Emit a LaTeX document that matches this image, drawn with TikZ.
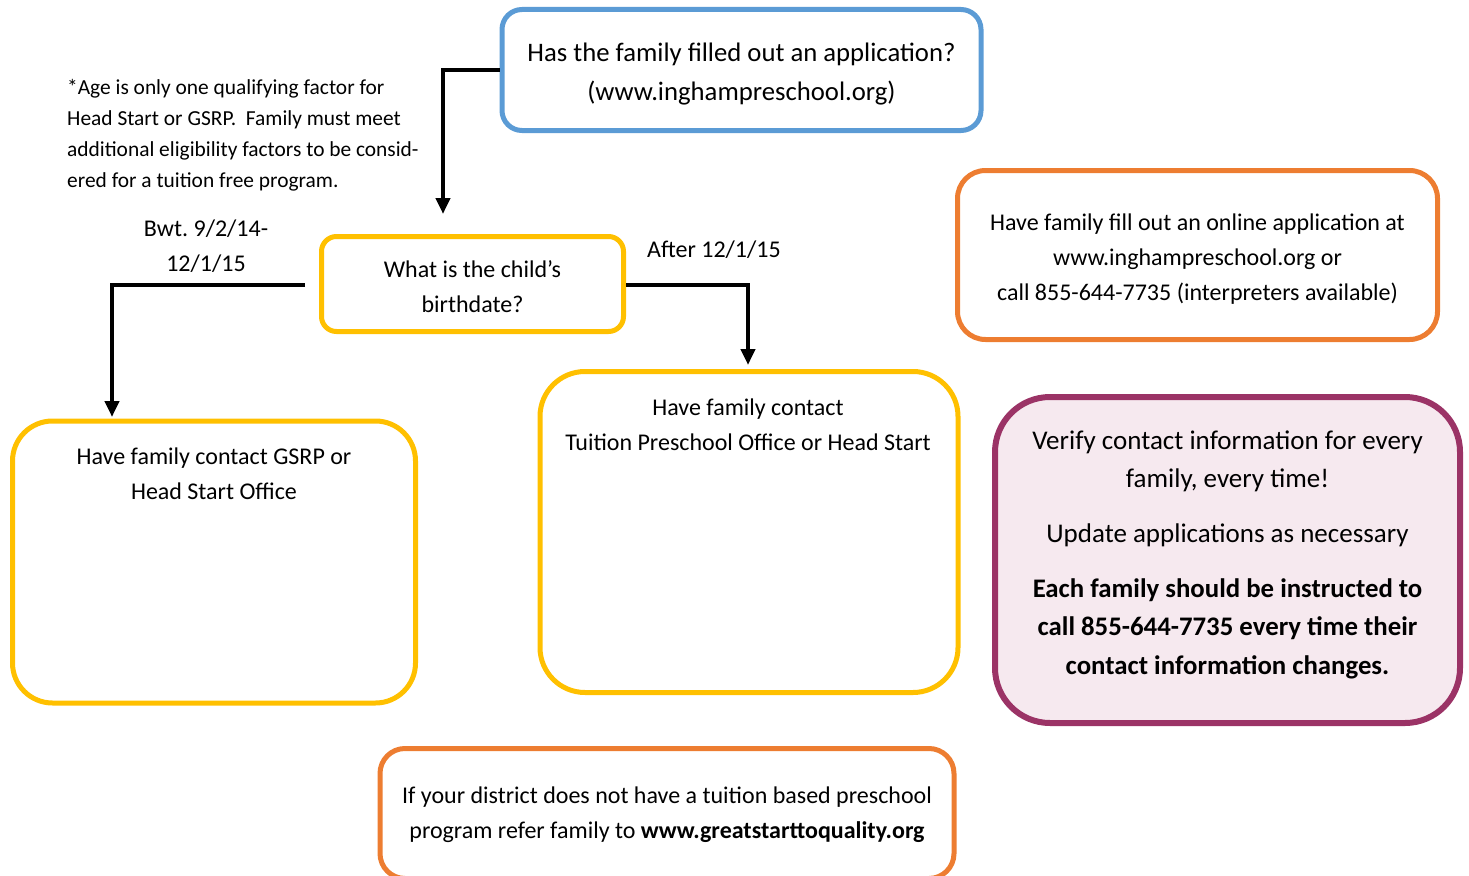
\documentclass[tikz,border=0pt]{standalone}
\usepackage{fontspec}
\setmainfont{Carlito}
\usetikzlibrary{arrows.meta}
\definecolor{cblue}{HTML}{5B9BD5}
\definecolor{corange}{HTML}{ED7D31}
\definecolor{cyellow}{HTML}{FFC000}
\definecolor{cpurple}{HTML}{9B3366}
\definecolor{cpink}{HTML}{F6E9EF}
\frenchspacing
\tikzset{
  box/.style={draw=#1, line width=5pt, rectangle, inner sep=0pt},
  txt/.style={inner sep=0pt, align=center, font=\fontsize{24}{35}\selectfont},
  conn/.style={line width=4pt, -{Triangle[width=14pt,length=16pt]}},
}
\begin{document}
\begin{tikzpicture}[x=1pt,y=-1pt]
\useasboundingbox (0,0) rectangle (1469,875);
\clip (0,0) rectangle (1469,875);
% boxes
\node[box=cblue, minimum width=479pt, minimum height=121pt, rounded corners=20pt] (b1) at (741.5,70) {};
\node[box=corange, minimum width=480pt, minimum height=169pt, rounded corners=28pt] (b2) at (1197.5,255) {};
\node[box=cyellow, minimum width=302pt, minimum height=95pt, rounded corners=15pt] (b3) at (472.5,284) {};
\node[box=cyellow, minimum width=403pt, minimum height=282pt, rounded corners=40pt] (b4) at (214,562) {};
\node[box=cyellow, minimum width=418pt, minimum height=321pt, rounded corners=45pt] (b5) at (749,532) {};
\node[box=cpurple, fill=cpink, line width=6pt, minimum width=465pt, minimum height=326pt, rounded corners=55pt] (b6) at (1227.5,560) {};
\node[box=corange, minimum width=574pt, minimum height=130pt, rounded corners=25pt] (b7) at (667,813.5) {};
% texts
\node[txt, font=\fontsize{26.7}{39}\selectfont] (t1) at (741.5,74) {Has the family filled out an application?\\(www.inghampreschool.org)};
\node[txt] (t2) at (1197.5,259) {Have family fill out an online application at\\www.inghampreschool.org or\\call 855-644-7735 (interpreters available)};
\node[txt] (t3) at (472.5,286.5) {What is the child’s\\birthdate?};
\node[txt] (t4) at (214,474) {Have family contact GSRP or\\Head Start Office};
\node[txt] (t5) at (748,425) {Have family contact\\Tuition Preschool Office or Head Start};
\node[txt, font=\fontsize{27}{38}\selectfont] (t6a) at (1227.5,461.5) {Verify contact information for every\\family, every time!};
\node[txt, font=\fontsize{27}{38}\selectfont] (t6b) at (1227.5,535.5) {Update applications as necessary};
\node[txt, font=\fontsize{26.8}{38.5}\bfseries] (t6c) at (1227.5,628.5) {Each family should be instructed to\\call 855-644-7735 every time their\\contact information changes.};
\node[txt] (t7) at (667,815) {If your district does not have a tuition based preschool\\program refer family to \textbf{www.greatstarttoquality.org}};
\node[txt, align=left, anchor=west, font=\fontsize{21.4}{31}\selectfont] (note) at (67,135.5) {*Age is only one qualifying factor for\\Head Start or GSRP.\ \ Family must meet\\additional eligibility factors to be consid-\\ered for a tuition free program.};
\node[txt] (l1) at (206,246) {Bwt. 9/2/14-\\12/1/15};
\node[txt, anchor=west] (l2) at (647,249.5) {After 12/1/15};
% connectors
\coordinate (c1) at (443,214);
\draw[conn] (b1.west) -- (c1 |- b1.west) -- (c1);
\coordinate (s2) at (305,285);
\coordinate (e2) at (112,417);
\draw[conn] (s2) -- (e2 |- s2) -- (e2);
\coordinate (e3) at (748,365);
\draw[conn] (b3.east |- s2) -- (e3 |- s2) -- (e3);
\end{tikzpicture}
\end{document}
